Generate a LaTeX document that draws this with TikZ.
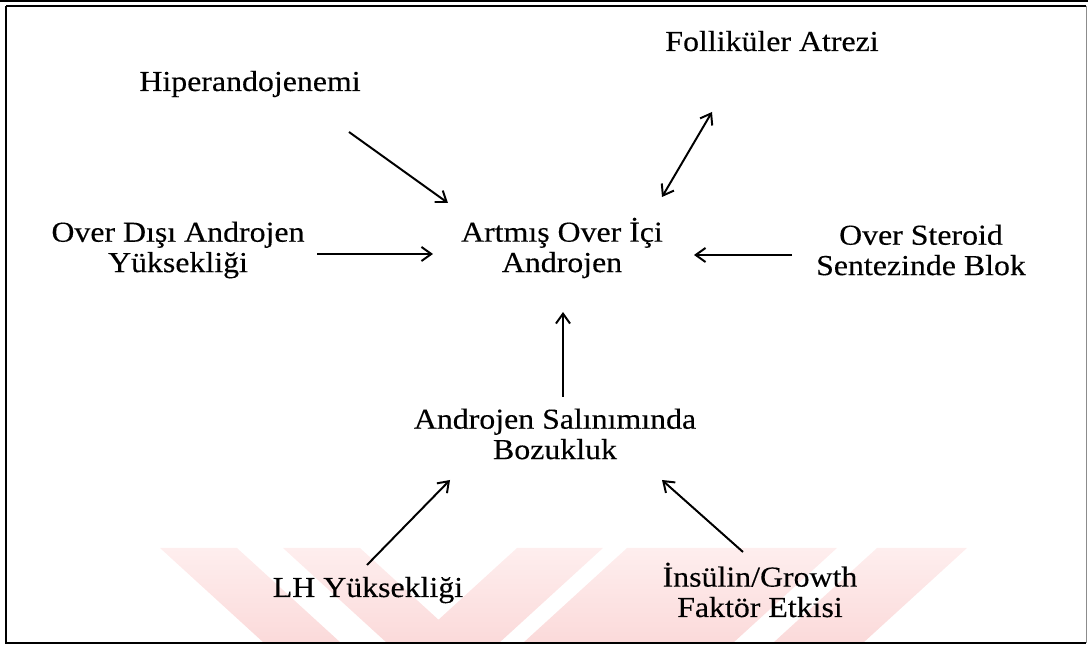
\documentclass[tikz,border=0pt]{standalone}
\usepackage{fontspec}
\newfontfamily\scanfont[FakeStretch=1.1,FakeBold=0.3]{Liberation Serif}
\usetikzlibrary{arrows.meta,calc,positioning}
\definecolor{wmpink}{RGB}{251,218,218}
\definecolor{wmlight}{RGB}{254,238,238}
\tikzset{
    txt/.style={font=\scanfont\fontsize{20.6}{21.6}\selectfont, align=center, inner sep=0pt},
    bar/.style={line width=1.4pt, -{Straight Barb[length=7pt,width=10pt]}},
    dbar/.style={line width=1.4pt, {Straight Barb[length=7pt,width=10pt]}-{Straight Barb[length=7pt,width=10pt]}},
    wm/.style={top color=wmlight, bottom color=wmpink, draw=none}
}
\begin{document}
\begin{tikzpicture}[x=0.025cm,y=-0.025cm]
    \useasboundingbox (0,0) rectangle (1088,648);
    \def \wtop {548}
    \def \wbot {643}
    \def \wdx {104}
    % watermark stripes
    \begin{scope}
    \clip (6,6) rectangle (1086,643);
    \foreach \a/\b in {160/237, 283/360}{
    \shade[wm] (\a,\wtop) -- (\b,\wtop) -- (\b+\wdx,\wbot) -- (\a+\wdx,\wbot) -- cycle;}
    \foreach \a/\b in {517/603, 627/837, 877/967}{
    \shade[wm] (\a,\wtop) -- (\b,\wtop) -- (\b-\wdx,\wbot) -- (\a-\wdx,\wbot) -- cycle;}
    \end{scope}
    % frame
    \draw[line width=1.2pt] (0,1) -- (1088,1);
    \draw[line width=0.9pt] (6,6) -- (6,643) -- (1086,643);
    \draw[line width=0.9pt] (6,6) -- (1086,6);
    \draw[line width=0.5pt, black!45] (1086,6) -- (1086,643);
    % texts
    \node[txt, anchor=base] (hip) at (250,91) {Hiperandojenemi};
    \node[txt, anchor=base] (fol) at (772,51) {Folliküler Atrezi};
    \node[txt] (dis) at (178,250) {Over Dışı Androjen\\Yüksekliği};
    \node[txt] (ici) at (562,248) {Artmış Over İçi\\Androjen};
    \node[txt] (ste) at (921,250) {Over Steroid\\Sentezinde Blok};
    \node[txt] (boz) at (555,434) {Androjen Salınımında\\Bozukluk};
    \node[txt, anchor=base] (lh) at (368,597) {LH Yüksekliği};
    \node[txt] (ins) at (760,590) {İnsülin/Growth\\Faktör Etkisi};
    % arrows
    \draw[bar] ($(hip.base)+(99,41)$) -- ($(ici)+(-114,-45)$);
    \draw[bar] ($(dis)+(139,4)$) -- ($(ici)+(-129,6)$);
    \draw[dbar] ($(fol.base)+(-60,61)$) -- ($(ici)+(100,-51)$);
    \draw[bar] ($(ste)+(-129,5)$) -- ($(ici)+(132,7)$);
    \draw[bar] ($(boz)+(8,-37)$) -- ($(ici)+(1,64)$);
    \draw[bar] ($(lh.base)+(-1,-32)$) -- ($(boz)+(-105,46)$);
    \draw[bar] ($(ins)+(-17,-38)$) -- ($(boz)+(107,46)$);
\end{tikzpicture}
\end{document}
